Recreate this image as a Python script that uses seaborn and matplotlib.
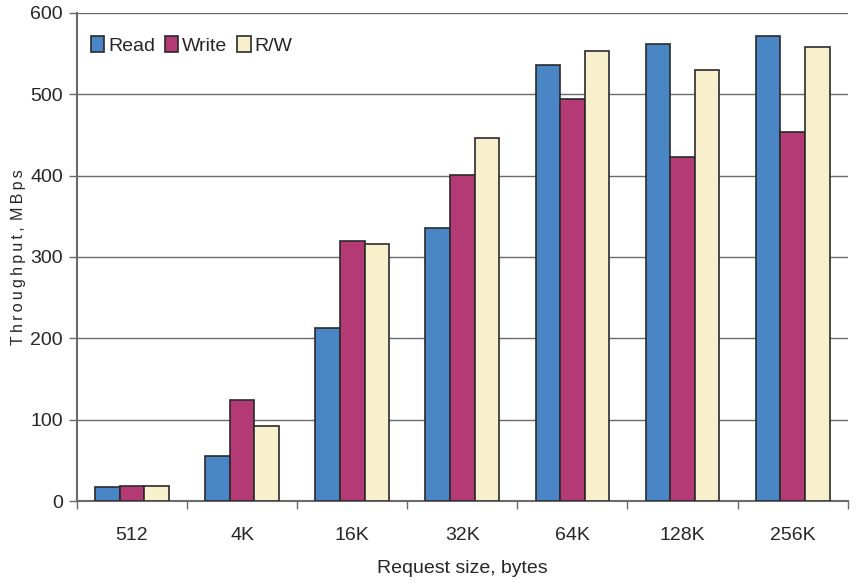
import matplotlib
matplotlib.use("Agg")
import matplotlib.pyplot as plt
import seaborn as sns
import pandas as pd
import numpy as np

categories = ["512", "4K", "16K", "32K", "64K", "128K", "256K"]
read_vals = [17, 55, 213, 336, 536, 562, 572]
write_vals = [19, 124, 320, 401, 494, 423, 454]
rw_vals = [19, 92, 316, 446, 553, 530, 558]
series = ["Read", "Write", "R/W"]
colors = ["#4a86c5", "#b33a74", "#f8f0cc"]

rows = []
for name, vals in zip(series, [read_vals, write_vals, rw_vals]):
    for c, v in zip(categories, vals):
        rows.append({"size": c, "series": name, "value": v})
df = pd.DataFrame(rows)

sns.set_style("white")
plt.rcParams['font.family'] = ['Liberation Sans', 'DejaVu Sans']

fig = plt.figure(figsize=(8.58, 5.84), dpi=100)
ax = fig.add_axes([0.0897, 0.142, 0.8983, 0.836])

sns.barplot(data=df, x="size", y="value", hue="series", order=categories,
            hue_order=series, palette=colors, width=0.67, edgecolor="#2a2a2a",
            linewidth=1.2, ax=ax, zorder=3, saturation=1)

ax.set_ylim(0, 600)
ax.set_xlim(-0.5, len(categories) - 0.5)
ax.set_yticks(np.arange(0, 601, 100))
ax.yaxis.grid(True, color="#6a6a6a", linewidth=1.0, zorder=0)
ax.set_axisbelow(True)

for s in ["top", "right"]:
    ax.spines[s].set_visible(False)
ax.spines["left"].set_color("#6a6a6a")
ax.spines["left"].set_linewidth(1.5)
ax.spines["bottom"].set_color("#6a6a6a")
ax.spines["bottom"].set_linewidth(1.5)

ax.tick_params(axis="y", direction="out", length=6, width=1, color="#6a6a6a",
               labelsize=14, left=True, pad=4)
ax.tick_params(axis="x", which="major", length=0, labelsize=14, pad=19)
ax.set_xticks(np.arange(-0.5, len(categories) + 0.5, 1), minor=True)
ax.tick_params(axis="x", which="minor", direction="out", length=6, width=1,
               color="#6a6a6a", bottom=True)

ylab = "\u2009".join("Throughput,") + "\u2009\u2009" + "\u2009".join("MBps")
ax.set_ylabel(ylab, fontsize=11.5)
ax.yaxis.set_label_coords(-0.066, 0.5)
ax.set_xlabel("Request size, bytes", fontsize=14, labelpad=11)

ax.legend(loc="upper left", bbox_to_anchor=(0.0, 0.98), frameon=False,
          fontsize=14, handlelength=0.7, handleheight=0.9, handletextpad=0.2,
          columnspacing=0.5, ncol=3, borderaxespad=0.3)

fig.savefig("out.png", dpi=100)
